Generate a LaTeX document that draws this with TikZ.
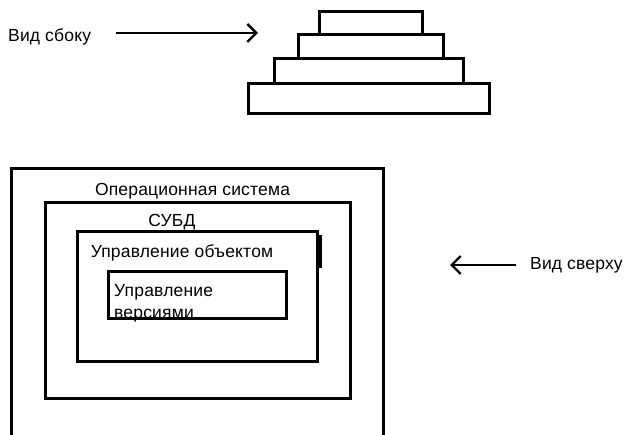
\documentclass[tikz,border=0pt]{standalone}
\usepackage{fontspec}
\setmainfont{Liberation Sans}[LetterSpace=1]
\usetikzlibrary{arrows.meta}
\begin{document}
\begin{tikzpicture}[x=1pt,y=-1pt,
  layer/.style={draw, line width=3pt, inner sep=0pt, outer sep=0pt},
  frame/.style={draw, line width=3pt, inner sep=0pt, outer sep=0pt},
  lbl/.style={inner sep=0pt, font=\fontsize{17.5}{22}\selectfont},
  viewarrow/.style={line width=2.6pt, -{Straight Barb[length=9pt, width=18pt, line width=2.4pt]}}]
\useasboundingbox (0,0) rectangle (630,435);
\clip (0,0) rectangle (630,435);
% side view (pyramid)
\node[layer, minimum width=103pt, minimum height=23pt] (p1) at (370.5,23.5) {};
\node[layer, minimum width=145pt, minimum height=24pt] (p2) at (370.5,47) {};
\node[layer, minimum width=189pt, minimum height=25pt] (p3) at (368.5,71.5) {};
\node[layer, minimum width=241pt, minimum height=30pt] (p4) at (368.5,99) {};
\node[lbl, anchor=base west] (side) at (8,42) {Вид сбоку};
\coordinate (sa) at (116,33);
\coordinate (sb) at (258,33);
\draw[viewarrow] (sa) -- (sb);
% top view (nested boxes)
\node[frame, minimum width=372pt, minimum height=276pt] (os) at (197,307) {};
\node[frame, minimum width=305pt, minimum height=196pt] (dbms) at (197.5,301) {};
\node[frame, minimum width=240pt, minimum height=130pt] (obj) at (197,297) {};
\node[frame, minimum width=178pt, minimum height=47pt] (ver) at (197,295.5) {};
\draw[line width=3pt] (320,235) -- (320,268);
\node[lbl, anchor=base] (tos) at (192.5,196) {Операционная система};
\node[lbl, anchor=base] (tdbms) at (172,227) {СУБД};
\node[lbl, anchor=base] (tobj) at (182,258) {Управление объектом};
\node[lbl, anchor=north west, align=left] (tver) at (114,284.5) {Управление\\версиями};
\node[lbl, anchor=base west] (top) at (530,270) {Вид сверху};
\coordinate (ta) at (516,265);
\coordinate (tb) at (450,265);
\draw[viewarrow] (ta) -- (tb);
\end{tikzpicture}
\end{document}
